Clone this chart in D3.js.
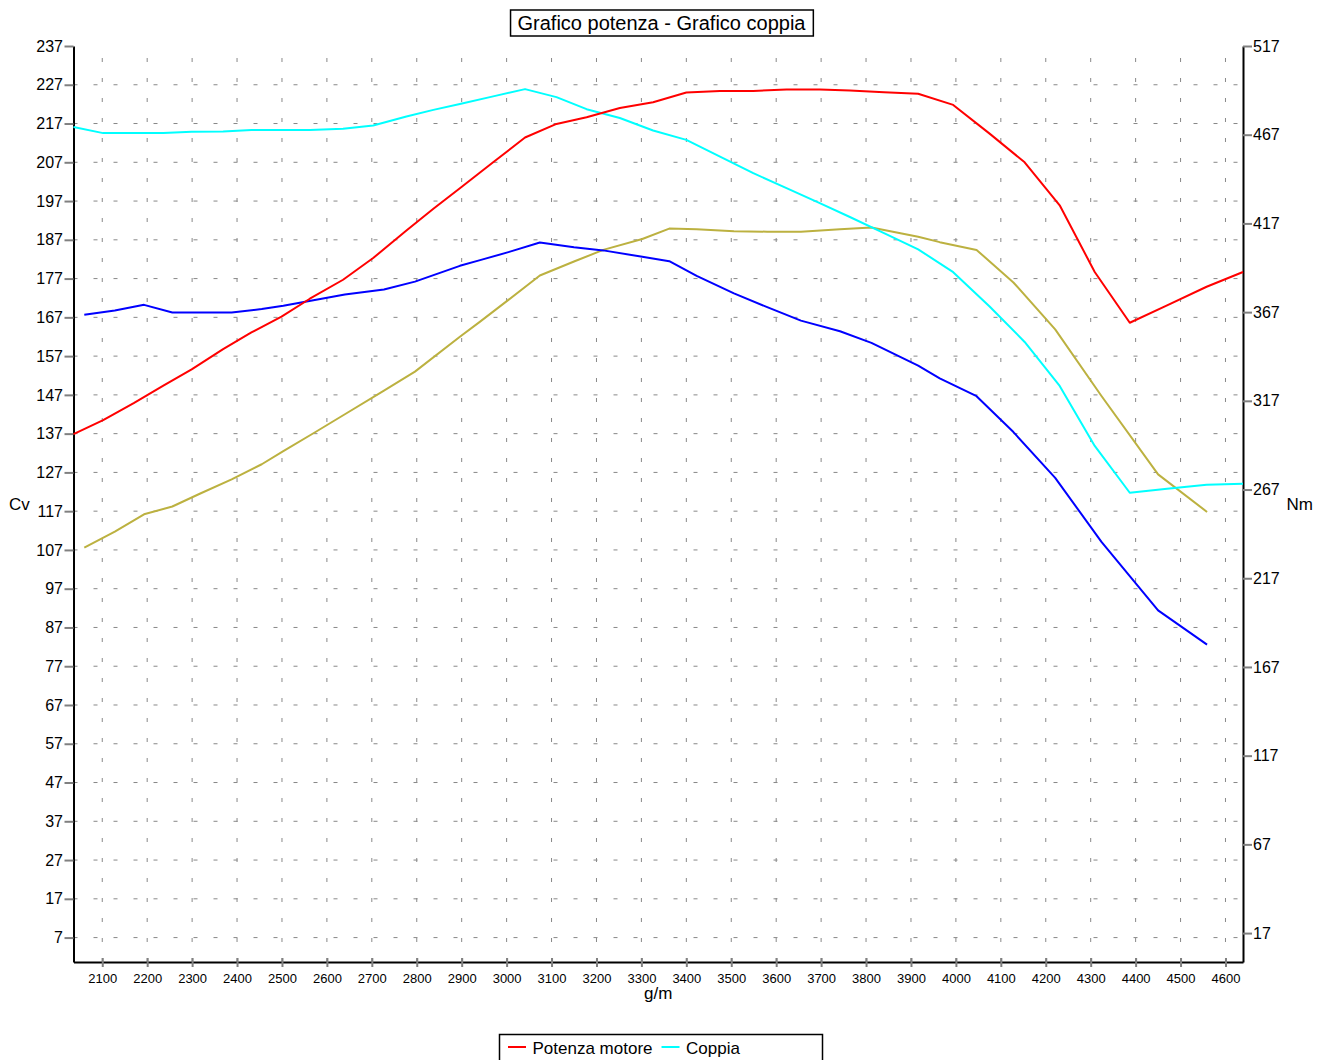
<!DOCTYPE html>
<html>
<head>
<meta charset="utf-8">
<script src="https://cdn.jsdelivr.net/npm/d3@7"></script>
<style>
  body { margin: 0; background: #fff; }
  svg { font-family: "Liberation Sans", Arial, Helvetica, sans-serif; }
  .grid line { stroke: #888; stroke-width: 1; stroke-dasharray: 4,16; }
  .axis path.domain { stroke: #000; stroke-width: 2; }
  .axis .tick line { stroke: #808080; stroke-width: 2; }
  .axis text { fill: #000; }
  .serie { fill: none; stroke-width: 2; stroke-linejoin: round; }
</style>
</head>
<body>
<script>
// prova A (rosso / ciano)
const rpmA = [2036, 2102, 2170, 2236, 2299, 2369, 2432, 2499, 2562, 2636, 2703, 2777, 2837, 2896, 2970, 3041, 3111, 3178, 3252, 3326, 3400, 3475, 3549, 3623, 3697, 3764, 3840, 3916, 3994, 4075, 4153, 4231, 4309, 4387, 4470, 4558, 4639];
const potenzaA = [136.9, 140.5, 144.9, 149.4, 153.6, 158.8, 163.1, 167.2, 171.8, 176.7, 182.3, 189.4, 195.0, 200.3, 207.0, 213.4, 216.9, 218.6, 221.0, 222.5, 225.0, 225.4, 225.4, 225.8, 225.8, 225.5, 225.1, 224.7, 221.8, 214.4, 207.0, 195.9, 178.7, 165.6, 170.1, 174.9, 178.7];
const coppiaA = [471.3, 467.9, 467.9, 467.9, 468.6, 468.8, 469.6, 469.6, 469.6, 470.3, 472.2, 477.3, 481.0, 484.3, 488.6, 492.7, 488.2, 481.4, 476.4, 469.4, 464.1, 454.7, 445.3, 436.9, 428.4, 420.6, 411.5, 402.4, 389.5, 370.2, 350.2, 325.4, 291.6, 265.2, 267.4, 269.7, 270.3];

// prova B (oliva / blu)
const rpmB = [2060, 2128, 2193, 2256, 2317, 2388, 2455, 2503, 2570, 2640, 2727, 2796, 2896, 2941, 3004, 3074, 3150, 3215, 3302, 3362, 3423, 3506, 3580, 3655, 3742, 3812, 3916, 3964, 4046, 4128, 4221, 4324, 4450, 4559];
const potenzaB = [107.6, 111.7, 116.2, 118.2, 121.5, 125.2, 129.1, 132.5, 137.1, 142.0, 148.1, 153.0, 162.0, 165.9, 171.5, 177.8, 181.4, 184.4, 187.2, 189.9, 189.7, 189.2, 189.1, 189.1, 189.7, 190.2, 187.8, 186.4, 184.4, 176.0, 163.9, 146.7, 126.5, 116.8];
const coppiaB = [365.5, 367.9, 371.1, 366.8, 366.8, 366.8, 368.7, 370.6, 373.7, 376.9, 379.8, 384.2, 393.1, 396.3, 400.8, 406.2, 403.6, 401.8, 398.2, 395.7, 387.4, 377.6, 369.8, 362.2, 356.2, 349.7, 336.8, 329.7, 319.6, 299.4, 273.6, 237.5, 198.9, 179.6];

// tick
const xTicks = [2100, 2200, 2300, 2400, 2500, 2600, 2700, 2800, 2900, 3000, 3100, 3200, 3300, 3400, 3500, 3600, 3700, 3800, 3900, 4000, 4100, 4200, 4300, 4400, 4500, 4600];
const cvTicks = [7, 17, 27, 37, 47, 57, 67, 77, 87, 97, 107, 117, 127, 137, 147, 157, 167, 177, 187, 197, 207, 217, 227, 237];
const nmTicks = [17, 67, 117, 167, 217, 267, 317, 367, 417, 467, 517];

const titolo = "Grafico potenza - Grafico coppia";
const legenda = [ { nome: "Potenza motore", colore: "#ff0000" }, { nome: "Coppia", colore: "#00ffff" } ];

const width = 1325;
const height = 1060;
const mLeft = 73.5, mRight = 1243, mTop = 46, mBottom = 962;

const svg = d3.select("body").append("svg").attr("width", width).attr("height", height);

/** scale */
const xScale = d3.scaleLinear().domain([2036, 4639]).range([mLeft, mRight]);
const yCv = d3.scaleLinear().domain([0.7, 237]).range([mBottom, mTop]);
const yNm = d3.scaleLinear().domain([0.7, 517]).range([mBottom, mTop]);

/** griglia tratteggiata */
const grid = svg.append("g").attr("class", "grid");
grid.selectAll(".gv").data(xTicks).enter().append("line")
  .attr("x1", d => xScale(d)).attr("x2", d => xScale(d))
  .attr("y1", mBottom).attr("y2", mTop);
grid.selectAll(".gh").data(cvTicks.filter(d => d < 237)).enter().append("line")
  .attr("x1", mLeft).attr("x2", mRight)
  .attr("y1", d => yCv(d)).attr("y2", d => yCv(d));

/** assi */
const axisx = d3.axisBottom(xScale).tickValues(xTicks).tickFormat(d3.format("d"))
  .tickSize(5).tickSizeOuter(0).tickPadding(6.5);
const axisCv = d3.axisLeft(yCv).tickValues(cvTicks).tickFormat(d3.format("d"))
  .tickSize(9).tickSizeOuter(0).tickPadding(1.5);
const axisNm = d3.axisRight(yNm).tickValues(nmTicks).tickFormat(d3.format("d"))
  .tickSize(9).tickSizeOuter(0).tickPadding(1);

const gx = svg.append("g").attr("class", "axis")
  .attr("transform", "translate(0," + mBottom + ")")
  .call(axisx);
gx.selectAll(".tick line").attr("y1", -4);
gx.selectAll("text").style("font-size", "13px");

svg.append("g").attr("class", "axis")
  .attr("transform", "translate(" + mLeft + ",0)")
  .call(axisCv)
  .selectAll("text").style("font-size", "16px");

svg.append("g").attr("class", "axis")
  .attr("transform", "translate(" + mRight + ",0)")
  .call(axisNm)
  .selectAll("text").style("font-size", "16px");

/** titoli assi */
svg.append("text").attr("x", (mLeft + mRight) / 2).attr("y", 999)
  .attr("text-anchor", "middle").style("font-size", "17px").text("g/m");
svg.append("text").attr("x", 9).attr("y", 510).style("font-size", "17px").text("Cv");
svg.append("text").attr("x", 1286.5).attr("y", 510).style("font-size", "17px").text("Nm");

/** linee */
const lineCv = d3.line().x(d => xScale(d[0])).y(d => yCv(d[1]));
const lineNm = d3.line().x(d => xScale(d[0])).y(d => yNm(d[1]));

svg.append("path").attr("class", "serie").attr("stroke", "#bcb140").attr("d", lineCv(d3.zip(rpmB, potenzaB)));
svg.append("path").attr("class", "serie").attr("stroke", "#0000ff").attr("d", lineNm(d3.zip(rpmB, coppiaB)));
svg.append("path").attr("class", "serie").attr("stroke", "#00ffff").attr("d", lineNm(d3.zip(rpmA, coppiaA)));
svg.append("path").attr("class", "serie").attr("stroke", "#ff0000").attr("d", lineCv(d3.zip(rpmA, potenzaA)));

/** titolo con riquadro */
const t = svg.append("text").attr("x", 661.5).attr("y", 30)
  .attr("text-anchor", "middle").style("font-size", "20px").text(titolo);
const tb = t.node().getBBox();
svg.insert("rect", () => t.node())
  .attr("x", tb.x - 7).attr("y", 10).attr("width", tb.width + 14).attr("height", 26)
  .attr("fill", "#fff").attr("stroke", "#000").attr("stroke-width", 1.5);

/** legenda (tagliata in basso come nell'originale) */
const leg = svg.append("g");
leg.append("rect").attr("x", 499.5).attr("y", 1034.5).attr("width", 323).attr("height", 60)
  .attr("fill", "#fff").attr("stroke", "#000").attr("stroke-width", 1.5);
let lx = 508;
legenda.forEach(item => {
  leg.append("line").attr("x1", lx).attr("x2", lx + 18).attr("y1", 1047).attr("y2", 1047)
    .attr("stroke", item.colore).attr("stroke-width", 2);
  const tx = leg.append("text").attr("x", lx + 24.5).attr("y", 1054).style("font-size", "17px").text(item.nome);
  lx = lx + 24.5 + tx.node().getComputedTextLength() + 9;
});
</script>
</body>
</html>
